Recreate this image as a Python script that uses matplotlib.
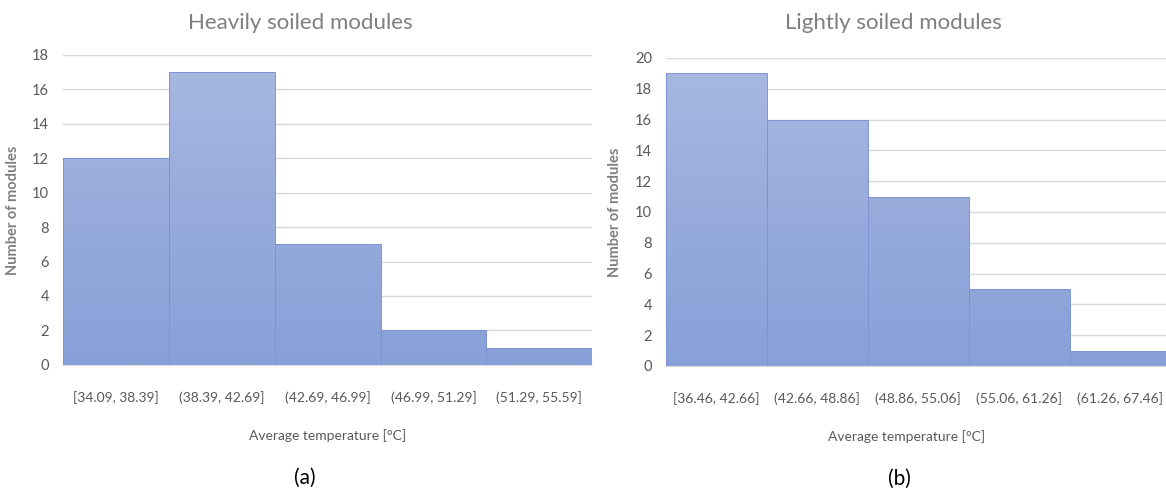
import numpy as np
import matplotlib
matplotlib.use("Agg")
import matplotlib.pyplot as plt
from matplotlib.colors import LinearSegmentedColormap

plt.rcParams["font.family"] = ["Lato", "DejaVu Sans"]

# temperature bins and module counts
heavy_bins = ["[34.09, 38.39]", "(38.39, 42.69]", "(42.69, 46.99]",
              "(46.99, 51.29]", "(51.29, 55.59]"]
heavy_counts = [12, 17, 7, 2, 1]

light_bins = ["[36.46, 42.66]", "(42.66, 48.86]", "(48.86, 55.06]",
              "(55.06, 61.26]", "(61.26, 67.46]"]
light_counts = [19, 16, 11, 5, 1]

GRAD = LinearSegmentedColormap.from_list("bar", ["#87a0d8", "#a8b8e0"])
TICK_C = "#595959"
TITLE_C = "#7f7f7f"


def hist_panel(ax, bins, counts, title, ymax, letter, title_pad,
               title_x, xlabel_x, letter_x):
    x = np.arange(len(counts))
    bars = ax.bar(x, counts, width=1.0, color="none", edgecolor="#7d94d2",
                  linewidth=0.7, zorder=3)
    # vertical gradient fill, clipped to each bar
    grad = np.linspace(0, 1, 256).reshape(-1, 1)
    for b in bars:
        im = ax.imshow(grad, cmap=GRAD, origin="lower", aspect="auto",
                       extent=(-0.5, len(counts) - 0.5, 0, ymax), zorder=2)
        im.set_clip_path(b)
    ax.set_xlim(-0.5, len(counts) - 0.5)
    ax.set_ylim(0, ymax)
    ax.set_yticks(range(0, ymax + 1, 2))
    ax.set_xticks(x)
    ax.set_xticklabels(bins)
    ax.yaxis.grid(True, color="#d9d9d9", linewidth=1.0, zorder=0)
    ax.set_axisbelow(True)
    for s in ["left", "right", "top"]:
        ax.spines[s].set_visible(False)
    ax.spines["bottom"].set_color("#d9d9d9")
    ax.tick_params(axis="both", length=0, labelsize=10, colors=TICK_C)
    ax.tick_params(axis="y", labelsize=10.5, pad=10)
    ax.tick_params(axis="x", pad=19)
    ax.set_title(title, fontsize=16, color=TITLE_C, pad=title_pad, x=title_x)
    ax.set_ylabel("Number of modules", fontsize=10.5, color=TITLE_C,
                  fontweight="bold", labelpad=9)
    ax.set_xlabel("Average temperature [°C]", fontsize=10, color=TICK_C,
                  labelpad=18, x=xlabel_x)
    ax.text(letter_x, -0.365, letter, transform=ax.transAxes, ha="center",
            va="center", fontsize=15, color="black")


fig = plt.figure(figsize=(11.66, 4.91), dpi=100)
ax1 = fig.add_axes([0.054, 0.257, 0.454, 0.631])
ax2 = fig.add_axes([0.571, 0.2546, 0.433, 0.6273])

hist_panel(ax1, heavy_bins, heavy_counts, "Heavily soiled modules", 18, "(a)",
           19, 0.448, 0.50, 0.457)
hist_panel(ax2, light_bins, light_counts, "Lightly soiled modules", 20, "(b)",
           21, 0.45, 0.477, 0.463)

fig.savefig("out.png", dpi=100)
